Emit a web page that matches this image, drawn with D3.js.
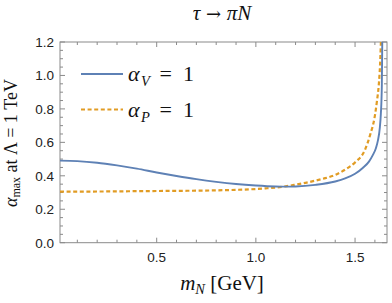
<!DOCTYPE html>
<html><head><meta charset="utf-8">
<script src="https://cdn.jsdelivr.net/npm/d3@7/dist/d3.min.js"></script>
<style>body{margin:0;background:#fff;} svg{display:block;}</style>
</head><body>
<script>
const xDomain = [0.0126, 1.661];
const yDomain = [0, 1.2];
const xMajor = [0.5, 1.0, 1.5];
const xMinor = [0.1,0.2,0.3,0.4,0.6,0.7,0.8,0.9,1.1,1.2,1.3,1.4,1.6];
const yMajor = [0.0,0.2,0.4,0.6,0.8,1.0,1.2];
const yMinor = [0.05,0.1,0.15,0.25,0.3,0.35,0.45,0.5,0.55,0.65,0.7,0.75,0.85,0.9,0.95,1.05,1.1,1.15];

const mV = [0.0126,0.1,0.2,0.3,0.4,0.5,0.6,0.7,0.8,0.9,1.0,1.1,1.15,1.2,1.3,1.4,1.45,1.5,1.54,1.57,1.59,1.605,1.615,1.625,1.63,1.635,1.638];
const alphaV = [0.491,0.488,0.478,0.462,0.443,0.420,0.399,0.380,0.364,0.351,0.342,0.336,0.335,0.336,0.346,0.366,0.384,0.412,0.448,0.485,0.525,0.565,0.61,0.69,0.77,0.94,1.3];
const mP = [0.0126,0.2,0.4,0.6,0.7,0.8,0.9,1.0,1.05,1.1,1.15,1.2,1.25,1.3,1.35,1.4,1.45,1.5,1.55,1.576,1.6,1.61,1.62,1.626,1.633];
const alphaP = [0.305,0.306,0.308,0.310,0.311,0.313,0.316,0.321,0.325,0.330,0.337,0.347,0.358,0.371,0.386,0.405,0.437,0.48,0.555,0.645,0.76,0.844,0.95,1.064,1.3];
const legendSubs = ["V", "P"];

const W = 392, H = 303;
const svg = d3.select("body").append("svg").attr("width", W).attr("height", H);
const x = d3.scaleLinear().domain(xDomain).range([60, 387]);
const y = d3.scaleLinear().domain(yDomain).range([242.7, 42]);

const frameColor = "#8a8a8a";
const defs = svg.append("defs");
defs.append("clipPath").attr("id","clip").append("rect")
  .attr("x", 60).attr("y", 42).attr("width", 327).attr("height", 200.7);

const g = svg.append("g");
function vtick(xv, len, side){
  const px = x(xv);
  if(side==="b") g.append("line").attr("x1",px).attr("x2",px).attr("y1",242.7).attr("y2",242.7-len);
  else g.append("line").attr("x1",px).attr("x2",px).attr("y1",42).attr("y2",42+len);
}
function htick(yv, len, side){
  const py = y(yv);
  if(side==="l") g.append("line").attr("x1",60).attr("x2",60+len).attr("y1",py).attr("y2",py);
  else g.append("line").attr("x1",387).attr("x2",387-len).attr("y1",py).attr("y2",py);
}
xMajor.forEach(v=>{vtick(v,5,"b");vtick(v,5,"t");});
xMinor.forEach(v=>{vtick(v,3,"b");vtick(v,3,"t");});
yMajor.forEach(v=>{htick(v,5,"l");htick(v,5,"r");});
yMinor.forEach(v=>{htick(v,3,"l");htick(v,3,"r");});
g.selectAll("line").attr("stroke", frameColor).attr("stroke-width", 1);

svg.append("rect").attr("x",60).attr("y",42).attr("width",327).attr("height",200.7)
  .attr("fill","none").attr("stroke",frameColor).attr("stroke-width",1);

const lab = svg.append("g").attr("font-family","'Liberation Sans', Arial, sans-serif")
  .attr("font-size", 13.5).attr("fill","#222");
xMajor.forEach(v=>{
  lab.append("text").attr("x", x(v)).attr("y", 262).attr("text-anchor","middle").text(v.toFixed(1));
});
yMajor.forEach(v=>{
  lab.append("text").attr("x", 54).attr("y", y(v)+5).attr("text-anchor","end").text(v.toFixed(1));
});

const line = d3.line().x(d=>x(d[0])).y(d=>y(d[1])).curve(d3.curveMonotoneX);
const plot = svg.append("g").attr("clip-path","url(#clip)");
plot.append("path").datum(mP.map((m,i)=>[m,alphaP[i]]))
  .attr("d", line).attr("fill","none").attr("stroke","#E19C24")
  .attr("stroke-width",2.2).attr("stroke-dasharray","4,2.6");
plot.append("path").datum(mV.map((m,i)=>[m,alphaV[i]]))
  .attr("d", line).attr("fill","none").attr("stroke","#5E81B5")
  .attr("stroke-width",1.9);

const serif = "'Liberation Serif','Times New Roman',serif";
svg.append("line").attr("x1",81).attr("x2",123).attr("y1",74).attr("y2",74)
  .attr("stroke","#5E81B5").attr("stroke-width",1.9);
svg.append("line").attr("x1",81).attr("x2",123).attr("y1",109.5).attr("y2",109.5)
  .attr("stroke","#E19C24").attr("stroke-width",2.2).attr("stroke-dasharray","4,2.6");
function legText(yy, sub){
  const t = svg.append("text").attr("y",yy).attr("font-family",serif).attr("font-size",22).attr("fill","#111");
  t.append("tspan").attr("x",128).attr("font-style","italic").text("α");
  t.append("tspan").attr("x",141).attr("font-style","italic").attr("font-size",14.5).attr("dy",4.5).text(sub);
  t.append("tspan").attr("x",159.5).attr("dy",-4.5).text("=");
  t.append("tspan").attr("x",183).text("1");
}
legText(81, legendSubs[0]);
legText(117, legendSubs[1]);

const tt = svg.append("text").attr("x",222).attr("y",20).attr("text-anchor","middle")
  .attr("font-family",serif).attr("font-size",21).attr("fill","#111");
tt.append("tspan").attr("font-style","italic").text("τ");
tt.append("tspan").attr("font-family","'DejaVu Serif', serif").attr("font-size",18).text(" → ");
tt.append("tspan").attr("font-style","italic").text("πN");

const xl = svg.append("text").attr("x",222).attr("y",290).attr("text-anchor","middle")
  .attr("font-family",serif).attr("font-size",21).attr("fill","#111");
xl.append("tspan").attr("font-style","italic").text("m");
xl.append("tspan").attr("font-style","italic").attr("font-size",14.5).attr("dy",4).text("N");
xl.append("tspan").attr("dy",-4).text(" [GeV]");

const yl = svg.append("text").attr("transform","translate(17,143) rotate(-90)").attr("text-anchor","middle")
  .attr("font-family",serif).attr("font-size",18).attr("fill","#111");
yl.append("tspan").attr("font-style","italic").text("α");
yl.append("tspan").attr("font-size",12).attr("dy",3).text("max");
yl.append("tspan").attr("dy",-3).text(" at Λ = 1 TeV");
</script>
</body></html>
